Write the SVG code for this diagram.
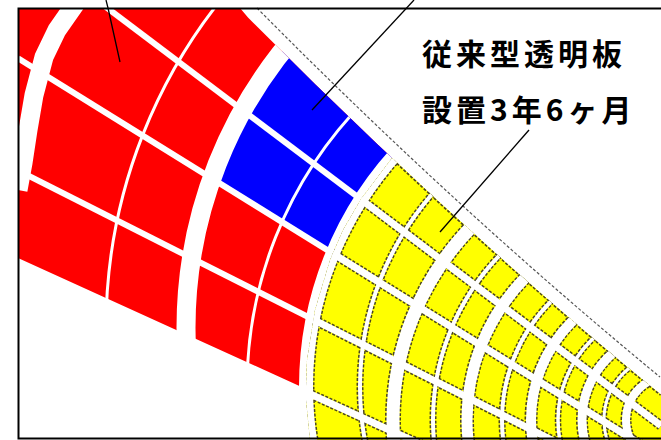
<svg xmlns="http://www.w3.org/2000/svg" width="661" height="440" viewBox="0 0 661 440">
<style>
.gw{fill:none;stroke:#fff}
.dk{fill:none;stroke:#4b4620;stroke-dasharray:3 1.6}
.lead{fill:none;stroke:#000;stroke-width:1.3}
.edge{fill:none;stroke:#555;stroke-width:1.2;stroke-dasharray:3 2}
.lbl{font-family:"Noto Sans CJK JP","Noto Sans CJK SC",sans-serif;font-weight:700;font-size:30px;letter-spacing:4px;fill:#000}
</style>
<defs>
<clipPath id="fan"><path d="M18,8 L240,8 L248,17.5 Q448,219.5 651,386.5 L661,394.6 L661,440 L18,440 Z"/></clipPath>
<clipPath id="yel"><path d="M480,8 L440,110 L392,158 L361,199 L343,230 L330,260 L315,310 L307,360 L306,387 L306,400 L310,440 L661,440 L661,8 Z"/></clipPath>
<path id="ep" d="M240,8 L248,17.5 Q448,219.5 651,386.5 L661,394.6"/>
<path id="w1" d="M78,0 L57,30 L44,57 L34,95 L28,130 L23,163 L18,190"/>
<circle id="s1" cx="632" cy="328" r="526"/>
<circle id="w2" cx="632" cy="328" r="446"/>
<circle id="s2" cx="654" cy="387" r="407"/>
<circle id="w3" cx="654" cy="387" r="348"/>
<circle id="s3" cx="654" cy="387" r="294"/>
<circle id="w4" cx="670" cy="420" r="277"/>
<circle id="s4" cx="670" cy="420" r="237"/>
<circle id="w5" cx="670" cy="420" r="203"/>
<circle id="s5" cx="670" cy="420" r="168"/>
<circle id="w6" cx="670" cy="420" r="139"/>
<circle id="s6" cx="670" cy="420" r="112"/>
<circle id="w7" cx="670" cy="420" r="88"/>
<circle id="s7" cx="670" cy="420" r="66"/>
<circle id="w8" cx="670" cy="420" r="44"/>
<path id="t1" d="M90,-5 L661,425.7"/>
<path id="t2" d="M18,58.3 L661,457"/>
<path id="t3" d="M18,170.5 L661,495.2"/>
<path id="t4" d="M18,261 L661,553.6"/>
</defs>
<rect width="661" height="440" fill="#fff"/>
<g id="red-blue-panels" clip-path="url(#fan)">
<path id="red-zone" fill="#ff0000" d="M18,8 L480,8 L440,110 L392,158 L361,199 L343,230 L330,260 L315,310 L307,360 L306,389 L18,258 Z"/>
<path id="blue-zone" fill="#0000ff" d="M321,8 L291,40 L268,70 L248,100 L237,120 L219,160 L212,179 L333,254 L343,230 L361,199 L392,158 L440,110 L480,8 Z"/>
<g class="gw">
<use href="#w1" style="stroke-width:19"/>
<use href="#s1" style="stroke-width:3"/>
<use href="#w2" style="stroke-width:19"/>
<use href="#s2" style="stroke-width:3"/>
<use href="#w3" style="stroke-width:14"/>
<use href="#t1" style="stroke-width:6"/>
<use href="#t2" style="stroke-width:6"/>
<use href="#t3" style="stroke-width:6"/>
</g>
</g>
<g id="yellow-panels" clip-path="url(#fan)">
<g clip-path="url(#yel)">
<rect x="300" y="100" width="361" height="340" fill="#ffff00"/>
<g class="dk">
<use href="#ep" style="stroke-width:3"/>
<use href="#w3" style="stroke-width:17"/>
<use href="#s3" style="stroke-width:7"/>
<use href="#w4" style="stroke-width:16"/>
<use href="#s4" style="stroke-width:7"/>
<use href="#w5" style="stroke-width:14"/>
<use href="#s5" style="stroke-width:7"/>
<use href="#w6" style="stroke-width:13"/>
<use href="#s6" style="stroke-width:6.5"/>
<use href="#w7" style="stroke-width:12"/>
<use href="#s7" style="stroke-width:6"/>
<use href="#w8" style="stroke-width:11"/>
<use href="#t1" style="stroke-width:10"/>
<use href="#t2" style="stroke-width:10"/>
<use href="#t3" style="stroke-width:10"/>
<use href="#t4" style="stroke-width:10"/>
</g>
<g class="gw">
<use href="#w3" style="stroke-width:14"/>
<use href="#s3" style="stroke-width:4"/>
<use href="#w4" style="stroke-width:13"/>
<use href="#s4" style="stroke-width:4"/>
<use href="#w5" style="stroke-width:11"/>
<use href="#s5" style="stroke-width:4"/>
<use href="#w6" style="stroke-width:10"/>
<use href="#s6" style="stroke-width:3.5"/>
<use href="#w7" style="stroke-width:9"/>
<use href="#s7" style="stroke-width:3"/>
<use href="#w8" style="stroke-width:8"/>
<use href="#t1" style="stroke-width:7"/>
<use href="#t2" style="stroke-width:7"/>
<use href="#t3" style="stroke-width:7"/>
<use href="#t4" style="stroke-width:7"/>
</g>
</g>
</g>
<path id="fan-edge" class="edge" d="M257,8 Q457,210 660,377"/>
<path id="frame" fill="none" stroke="#000" stroke-width="2" d="M661,8.5 H18.5 V438.5 H661"/>
<g id="connectors">
<path class="lead" d="M106,0 L108,8 L120,62"/>
<path class="lead" d="M414,0 L312,110"/>
<path class="lead" d="M529,130 L440,232"/>
</g>
<g id="label">
<text class="lbl" x="422" y="65">従来型透明板</text>
<text class="lbl" x="422" y="121">設置3年6ヶ月</text>
</g>
</svg>
